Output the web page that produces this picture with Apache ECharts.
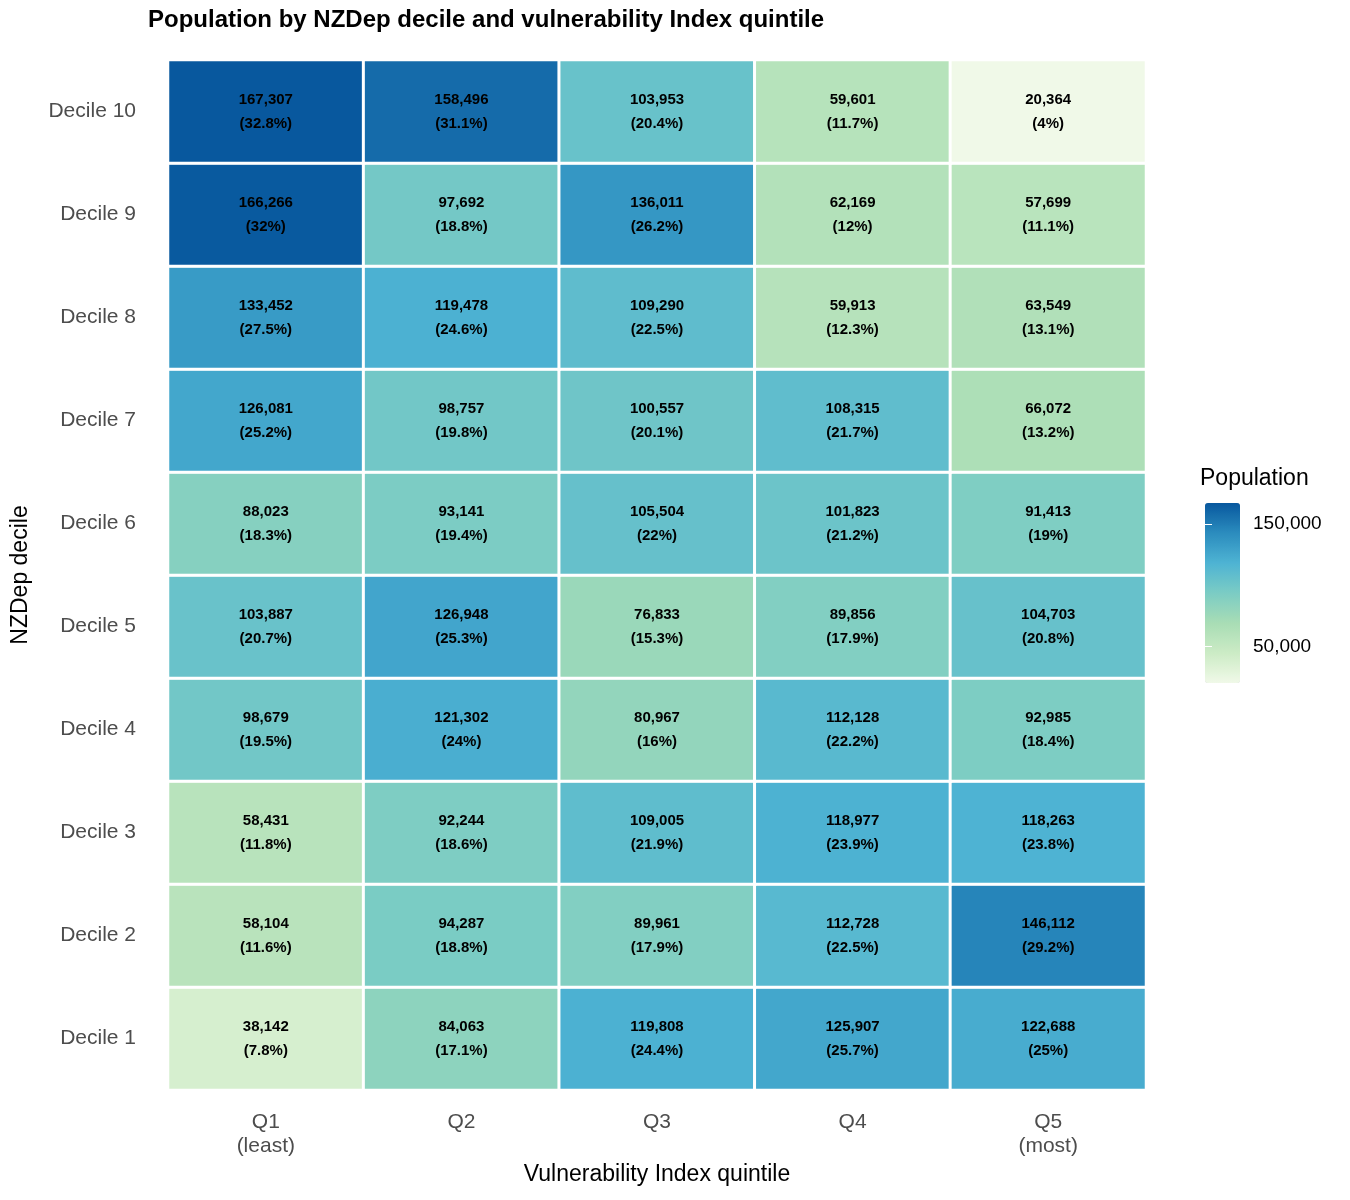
<!DOCTYPE html>
<html>
<head>
<meta charset="utf-8">
<title>Population by NZDep decile and vulnerability Index quintile</title>
<script src="https://cdn.jsdelivr.net/npm/echarts@6/dist/echarts.min.js"></script>
<style>
  html, body { margin: 0; padding: 0; background: #ffffff; }
  #chart { width: 1350px; height: 1200px; }
</style>
</head>
<body>
<div id="chart"></div>
<script>
"use strict";

// x categories (vulnerability quintile) and y categories (NZDep decile, bottom to top)
var quintiles = ['Q1\n(least)', 'Q2', 'Q3', 'Q4', 'Q5\n(most)'];
var deciles = ['Decile 1', 'Decile 2', 'Decile 3', 'Decile 4', 'Decile 5',
               'Decile 6', 'Decile 7', 'Decile 8', 'Decile 9', 'Decile 10'];

// population per decile row, Q1..Q5
var popD1  = [38142, 84063, 119808, 125907, 122688];
var popD2  = [58104, 94287, 89961, 112728, 146112];
var popD3  = [58431, 92244, 109005, 118977, 118263];
var popD4  = [98679, 121302, 80967, 112128, 92985];
var popD5  = [103887, 126948, 76833, 89856, 104703];
var popD6  = [88023, 93141, 105504, 101823, 91413];
var popD7  = [126081, 98757, 100557, 108315, 66072];
var popD8  = [133452, 119478, 109290, 59913, 63549];
var popD9  = [166266, 97692, 136011, 62169, 57699];
var popD10 = [167307, 158496, 103953, 59601, 20364];

// share of the decile row, in percent
var pctD1  = [7.8, 17.1, 24.4, 25.7, 25];
var pctD2  = [11.6, 18.8, 17.9, 22.5, 29.2];
var pctD3  = [11.8, 18.6, 21.9, 23.9, 23.8];
var pctD4  = [19.5, 24, 16, 22.2, 18.4];
var pctD5  = [20.7, 25.3, 15.3, 17.9, 20.8];
var pctD6  = [18.3, 19.4, 22, 21.2, 19];
var pctD7  = [25.2, 19.8, 20.1, 21.7, 13.2];
var pctD8  = [27.5, 24.6, 22.5, 12.3, 13.1];
var pctD9  = [32, 18.8, 26.2, 12, 11.1];
var pctD10 = [32.8, 31.1, 20.4, 11.7, 4];

var legendTicks = [50000, 150000];
var palette = ['#f0f9e8', '#ccebc5', '#a8ddb5', '#7bccc4', '#4eb3d3', '#2b8cbe', '#08589e'];

var popRows = [popD1, popD2, popD3, popD4, popD5, popD6, popD7, popD8, popD9, popD10];
var pctRows = [pctD1, pctD2, pctD3, pctD4, pctD5, pctD6, pctD7, pctD8, pctD9, pctD10];

var cells = [];
var allVals = [];
popRows.forEach(function (row, y) {
  row.forEach(function (v, x) {
    cells.push([x, y, v, pctRows[y][x]]);
    allVals.push(v);
  });
});
var vMin = Math.min.apply(null, allVals);
var vMax = Math.max.apply(null, allVals);

function fmt(n) {
  return n.toLocaleString('en-US');
}

var FONT = 'Liberation Sans, Arial, sans-serif';
var chart = echarts.init(document.getElementById('chart'));

var option = {
  backgroundColor: '#ffffff',
  animation: false,
  textStyle: { fontFamily: FONT },
  title: [{
    text: 'Population by NZDep decile and vulnerability Index quintile',
    left: 148,
    top: 8,
    padding: 0,
    textStyle: { fontSize: 24, fontWeight: 'bold', color: '#000000', fontFamily: FONT }
  }, {
    text: 'Population',
    left: 1200,
    top: 467,
    padding: 0,
    textStyle: { fontSize: 23, fontWeight: 'normal', color: '#000000', fontFamily: FONT }
  }],
  grid: [{
    left: 168, right: 204, top: 60, bottom: 110
  }, {
    left: 1205, top: 503, width: 35, height: 180
  }],
  xAxis: [{
    type: 'category',
    data: quintiles,
    gridIndex: 0,
    axisLine: { show: false },
    axisTick: { show: false },
    splitLine: { show: false },
    axisLabel: { color: '#4d4d4d', fontSize: 21, lineHeight: 24, margin: 20 },
    name: 'Vulnerability Index quintile',
    nameLocation: 'middle',
    nameGap: 73,
    nameTextStyle: { color: '#000000', fontSize: 23 }
  }, {
    type: 'value',
    gridIndex: 1,
    show: false
  }],
  yAxis: [{
    type: 'category',
    data: deciles,
    gridIndex: 0,
    axisLine: { show: false },
    axisTick: { show: false },
    splitLine: { show: false },
    axisLabel: { color: '#4d4d4d', fontSize: 21, margin: 32 },
    name: 'NZDep decile',
    nameLocation: 'middle',
    nameGap: 136,
    nameRotate: 90,
    nameTextStyle: { color: '#000000', fontSize: 23 }
  }, {
    type: 'value',
    gridIndex: 1,
    position: 'right',
    min: vMin,
    max: vMax,
    z: 10,
    axisLine: { show: false },
    splitLine: { show: false },
    axisTick: { show: true, inside: true, length: 7, customValues: legendTicks,
                lineStyle: { color: '#ffffff', width: 1 } },
    axisLabel: { show: true, customValues: legendTicks, formatter: fmt,
                 color: '#000000', fontSize: 19, margin: 13 }
  }, {
    type: 'value',
    gridIndex: 1,
    position: 'left',
    min: vMin,
    max: vMax,
    z: 10,
    axisLine: { show: false },
    splitLine: { show: false },
    axisTick: { show: true, inside: true, length: 7, customValues: legendTicks,
                lineStyle: { color: '#ffffff', width: 1 } },
    axisLabel: { show: false }
  }],
  visualMap: {
    type: 'continuous',
    min: vMin,
    max: vMax,
    dimension: 2,
    seriesIndex: 0,
    calculable: false,
    hoverLink: false,
    left: 1205,
    top: 503,
    padding: 0,
    itemWidth: 35,
    itemHeight: 180,
    inRange: { color: palette }
  },
  series: [{
    type: 'heatmap',
    xAxisIndex: 0,
    yAxisIndex: 0,
    data: cells,
    itemStyle: { borderColor: '#ffffff', borderWidth: 3 },
    label: {
      show: true,
      color: '#000000',
      fontSize: 15,
      fontWeight: 'bold',
      lineHeight: 24,
      formatter: function (p) {
        return fmt(p.value[2]) + '\n(' + p.value[3] + '%)';
      }
    },
    emphasis: { disabled: true }
  }]
};

chart.setOption(option);
</script>
</body>
</html>
